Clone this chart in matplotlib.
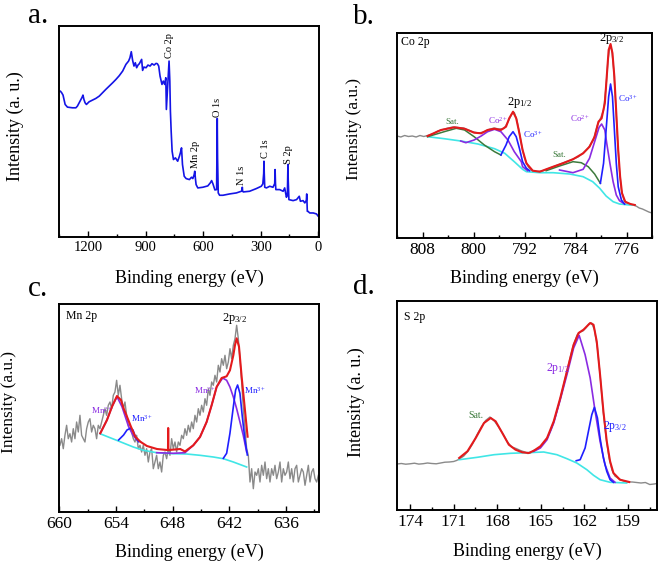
import matplotlib
matplotlib.use('Agg')
import matplotlib.pyplot as plt
import numpy as np
from matplotlib.ticker import MultipleLocator

plt.rcParams['font.family'] = ['Liberation Serif', 'DejaVu Serif']
plt.rcParams['mathtext.fontset'] = 'custom'
plt.rcParams['mathtext.rm'] = 'Liberation Serif'
plt.rcParams['mathtext.it'] = 'Liberation Serif:italic'
plt.rcParams['mathtext.bf'] = 'Liberation Serif:bold'

# ---------------- data: (a) survey ----------------
E_a = [1352, 1345, 1338, 1331, 1320, 1308, 1295, 1282, 1264, 1256, 1244, 1232, 1227, 1222, 1216, 1209,
       1195, 1177, 1160, 1142, 1125, 1108, 1090, 1072, 1055, 1038, 1020, 1003, 989, 982, 975, 968, 961,
       954, 947, 940, 933, 926, 921, 916, 909, 898, 888, 877, 867, 856, 846, 839, 832, 825, 815, 808,
       801, 795, 792, 787, 781, 778, 774, 771, 767, 762, 755, 745, 733, 724, 719, 713, 708, 699, 689,
       672, 661, 654, 647, 644, 640, 637, 628, 602, 576, 563, 556, 549, 539, 530, 528.5, 526.7, 525,
       521.5, 514.5, 497, 462, 427, 401, 397.5, 396, 394.5, 391, 358, 323, 297, 289, 284.5, 283, 281.5,
       279, 270, 253, 236, 227, 225, 223, 221, 201, 183, 175, 166, 161, 159.5, 158, 156.5, 153, 131,
       113, 99, 93, 79, 70, 62, 60, 58.5, 57, 54, 44, 26, 9, 0, -4]
I_a = [437, 437, 432, 425, 397, 389, 388, 387, 387, 392, 405, 418, 425, 412, 402, 397,
       405, 410, 415, 422, 432, 442, 452, 462, 472, 483, 497, 517, 527, 537, 555, 529, 512,
       522, 507, 515, 519, 527, 532, 499, 509, 507, 515, 512, 519, 515, 520, 519, 512, 482, 457, 467,
       457, 477, 382, 432, 487, 527, 467, 377, 317, 257, 232, 237, 227, 242, 252, 267, 217, 182, 175,
       172, 179, 175, 187, 197, 172, 157, 147, 149, 153, 162, 169, 159, 141, 142, 237, 355, 237,
       132, 125, 125, 129, 132, 137, 140, 149, 138, 135, 137, 145, 152, 159, 190, 227, 190,
       149, 147, 152, 149, 160, 202, 160, 142, 142, 137, 147, 119, 125, 170, 217, 170, 112, 109,
       112, 122, 107, 109, 102, 110, 129, 100, 77, 77, 72, 72, 69, 62, 67]
labels_a = ["Co 2p", "Mn 2p", "O 1s", "N 1s", "C 1s", "S 2p"]
label_E_a = [778, 640, 527, 399.5, 276, 157]
label_I_a = [536, 206, 360, 156, 236, 219]

# ---------------- data: (b) Co 2p ----------------
E_b_raw = [812.0, 811.4, 810.8, 810.2, 809.6, 809.0, 808.4, 807.8, 807.2, 806.4, 805.6, 804.8, 804.0,
           803.2, 802.4, 801.6, 800.8, 800.0, 799.2, 798.4, 797.6, 796.8, 796.0, 795.2, 794.6, 794.0,
           793.6, 793.2, 792.8, 792.4, 792.0, 791.4, 790.8, 790.0, 789.2, 788.4, 787.6, 786.8, 786.0,
           785.2, 784.4, 783.6, 782.8, 782.0, 781.2, 780.6, 780.0, 779.6, 779.2, 778.9, 778.6, 778.3,
           778.0, 777.7, 777.4, 777.1, 776.8, 776.4, 776.0, 775.5, 775.0, 774.5, 774.0, 773.5, 773.0,
           772.5, 772.0, 771.6]
I_b_raw = [102, 101, 102.5, 101.5, 102, 101, 102.5, 101.5, 102.5, 104, 107, 108.5, 110,
           111, 110.5, 110, 108, 106, 105, 106, 108.5, 110, 109, 109.5, 116, 124,
           125.5, 118, 105, 91, 80, 71, 67, 66.5, 67, 69, 71, 73, 75,
           77, 79, 81, 85, 90, 98, 112, 121, 128, 152, 178, 192, 188,
           168, 135, 98, 68, 48, 38, 35, 34, 33, 32, 30, 29, 27.5,
           26, 25, 24.5]
E_b_fit = [807.2, 805.1, 803.0, 801.4, 799.9, 798.8, 797.8, 796.7, 795.7, 794.9, 794.4, 793.8, 793.3,
           792.8, 792.3, 791.7, 790.7, 789.6, 788.6, 787.5, 786.0, 784.4, 782.8, 781.8, 781.0, 780.4,
           779.9, 779.4, 779.1, 778.8, 778.5, 778.2, 777.9, 777.6, 777.3, 777.0, 776.7, 776.2, 775.4, 774.7]
I_b_fit = [102, 108, 110.7, 109.3, 105.3, 104.7, 108, 109.3, 108, 111.3, 119.7, 126.3, 119.7,
           104.7, 88, 74.7, 67.3, 66.3, 68.7, 71.3, 74.7, 78.7, 84.7, 91.3, 101.3, 116.3,
           119.7, 134.7, 161.3, 188, 194, 184.7, 161, 124.7, 88, 61.3, 44.7, 36.3, 34, 33]
E_b_bg = [807.2, 804.6, 802.0, 799.3, 796.7, 795.1, 793.6, 792.3, 791.7, 789.6, 787.5, 784.9, 782.8,
          781.3, 780.2, 779.2, 778.1, 777.1, 775.5, 774.7]
I_b_bg = [101.3, 99.3, 97, 94, 89.3, 84.7, 76.3, 68.7, 66.3, 65.3, 65.3, 64, 61.3,
          56.3, 49.7, 42, 36.3, 34, 33, 33]
E_b_sat1 = [807.2, 804.6, 802.7, 801.4, 799.9, 798.3, 796.7, 795.7]
I_b_sat1 = [101.3, 106.3, 109.7, 108, 101.3, 93, 86.3, 83]
E_b_co2a = [802.0, 801.2, 799.9, 798.8, 797.8, 796.7, 795.7, 794.6, 793.6, 792.5, 792.3, 791.5]
I_b_co2a = [97, 95.3, 98, 102, 106.3, 108.7, 106.3, 98, 86.3, 76.3, 71.3, 67.3]
E_b_co3a = [795.7, 794.9, 794.4, 793.8, 793.3, 792.8, 792.3, 791.7, 791.2]
I_b_co3a = [83, 93, 101.3, 106.3, 101.3, 89.7, 76.3, 69.7, 67.3]
E_b_sat2 = [788.6, 786.5, 784.4, 783.1, 782.0, 781.0, 780.1]
I_b_sat2 = [67.3, 72, 76.3, 75.3, 71.3, 64, 54.7]
E_b_co2b = [786.5, 784.4, 782.8, 781.8, 781.0, 780.3, 779.9, 779.4, 779.1, 778.6, 778.1, 777.6, 777.1, 776.3]
I_b_co2b = [68, 65.3, 68.7, 79.7, 96.3, 110.7, 114, 108, 94.7, 74.7, 56.3, 43, 37.3, 34]
E_b_co3b = [780.1, 779.6, 779.2, 778.8, 778.5, 778.2, 777.9, 777.6, 777.3, 776.8, 776.3]
I_b_co3b = [54.7, 74.7, 108, 141.3, 154, 141.3, 108, 74.7, 51.3, 38, 34]

# ---------------- data: (c) Mn 2p ----------------
E_c_start, E_c_end = 659.93, 632.57
I_c_raw = [66.7, 73.3, 63.3, 76.7, 86.7, 73.3, 78.3, 70.0, 83.3, 73.3, 90.0, 80.0, 96.7, 76.7, 73.3, 70.0,
           83.3, 90.0, 93.3, 80.0, 86.7, 83.3, 73.3, 86.7, 83.3, 90.0, 96.7, 103.3, 96.7, 106.7, 110.0,
           103.3, 116.7, 120.0, 131.7, 116.7, 126.7, 113.3, 103.3, 110.0, 96.7, 86.7, 86.7, 80.0, 73.3,
           70.0, 76.7, 63.3, 66.7, 60.0, 66.7, 56.7, 63.3, 50.0, 60.0, 63.3, 43.3, 50.0, 56.7, 43.3, 50.0,
           40.0, 56.7, 60.0, 53.3, 63.3, 56.7, 73.3, 63.3, 70.0, 60.0, 70.0, 66.7, 76.7, 73.3, 83.3, 76.7,
           86.7, 80.0, 90.0, 83.3, 96.7, 90.0, 103.3, 96.7, 106.7, 100.0, 113.3, 106.7, 123.3, 116.7, 130.0,
           126.7, 136.7, 130.0, 146.7, 140.0, 153.3, 146.7, 156.7, 143.3, 150.0, 163.3, 153.3, 166.7, 173.3,
           186.7, 173.3, 153.3, 130.0, 103.3, 83.3, 63.3, 56.7, 30.0, 43.3, 23.3, 40.0, 36.7, 43.3, 30.0,
           46.7, 36.7, 50.0, 33.3, 43.3, 30.0, 43.3, 36.7, 46.7, 33.3, 40.0, 50.0, 30.0, 43.3, 36.7, 40.0,
           50.0, 33.3, 43.3, 30.0, 43.3, 46.7, 30.0, 36.7, 43.3, 40.0, 26.7, 36.7, 46.7, 30.0, 40.0, 43.3,
           33.3, 30.0, 36.7]
E_c_fit = [655.66, 654.95, 654.42, 653.89, 653.47, 653.19, 652.83, 652.41, 651.95, 651.42, 650.72, 649.66,
           648.6, 648.49, 648.47, 648.45, 648.39, 647.19, 646.69, 645.81, 645.10, 644.40, 643.87, 643.34,
           642.81, 642.28, 641.93, 641.57, 641.40, 641.22, 640.97, 640.69, 640.34, 640.06]
I_c_fit = [78.7, 92, 105.3, 116, 112, 103.7, 95.3, 85.3, 75.3, 70.3, 66, 63, 62, 62, 84, 62, 62, 63,
           60.5, 66.7, 75, 90, 106.7, 125, 134, 135.7, 141.7, 156.7, 166.7, 173.7, 165.3, 135.3, 102, 75.3]
E_c_bg = [655.69, 653.93, 652.16, 651.1, 649.69, 647.93, 646.52, 645.10, 643.69, 642.63, 641.57, 640.16]
I_c_bg = [78.3, 71.7, 65, 61.7, 59.3, 58.3, 58, 56.7, 55, 53.3, 50, 45]
E_c_mn2a = [655.66, 654.95, 654.42, 653.89, 653.36, 653.01, 652.66, 652.2, 651.78, 651.42]
I_c_mn2a = [78.7, 92, 105.3, 115.3, 105.3, 95.3, 85.3, 77, 72, 70.3]
E_c_mn3a = [653.72, 653.19, 652.83, 652.48, 652.2, 651.95, 651.6]
I_c_mn3a = [72, 77, 82, 83.7, 82, 75.3, 70.3]
E_c_mn2b = [649.69, 647.93, 646.69, 645.81, 645.10, 644.40, 643.87, 643.34, 642.70, 642.28, 641.93, 641.57,
            641.22, 640.87, 640.52, 640.16]
I_c_mn2b = [59.3, 58.7, 59.3, 66.7, 75, 90, 106.7, 125, 134, 131.7, 125, 115, 103.3, 90, 76.7, 60]
E_c_mn3b = [642.63, 642.28, 641.93, 641.57, 641.33, 641.12, 640.87, 640.62, 640.34, 640.09]
I_c_mn3b = [53.7, 58.7, 78.7, 105.3, 122, 127, 118.7, 95.3, 72, 57]

# ---------------- data: (d) S 2p ----------------
E_d_raw = [174.9, 174.6, 174.3, 174.0, 173.7, 173.4, 173.1, 172.8, 172.5, 172.2, 171.9, 171.6, 171.3, 171.0,
           170.8, 170.6, 170.3, 170.0, 169.7, 169.4, 169.1, 168.8, 168.5, 168.2, 167.9, 167.6, 167.3, 167.0,
           166.7, 166.4, 166.1, 165.9, 165.7, 165.5, 165.2, 164.9, 164.6, 164.3, 164.0, 163.7, 163.4, 163.1,
           162.8, 162.5, 162.3, 162.1, 161.9, 161.7, 161.5, 161.3, 161.1, 160.9, 160.7, 160.5, 160.3, 160.1,
           159.9, 159.6, 159.3, 159.0, 158.7, 158.4, 158.1, 157.8, 157.5, 157.2, 157.0]
I_d_raw = [46, 46.5, 45.8, 46.2, 46.8, 45.9, 46.3, 47, 46.5, 46.2, 47, 47.8, 48, 48.5,
           49.5, 51, 54, 59, 66, 75, 83, 89.5, 93, 89, 83, 76, 68, 63,
           61.5, 59.5, 58, 56.5, 57, 59.5, 61, 65, 71, 80, 93, 109, 127, 145,
           163, 175, 178, 179, 182, 186, 187, 180, 162, 132, 98, 72, 52, 40,
           34, 31, 29, 28, 28, 27.5, 27, 27.5, 25.5, 26, 26.5]
E_d_fit = [170.62, 170.05, 169.48, 168.91, 168.45, 168.11, 167.65, 167.2, 166.74, 166.28, 165.83, 165.48,
           165.03, 164.57, 164.11, 163.66, 163.2, 162.74, 162.4, 162.06, 161.6, 161.37, 161.15, 160.92,
           160.69, 160.46, 160.23, 160.0, 159.55, 158.91]
I_d_fit = [52, 58.7, 72, 87, 92, 88.7, 77, 65.3, 60.3, 57.7, 57, 59.3,
           63.7, 72, 88.7, 112, 138.7, 165.3, 177, 180.3, 187, 185.3, 168.7, 135.3,
           98.7, 68.7, 48.7, 37, 30.3, 28]
E_d_bg = [170.62, 169.37, 168.22, 167.08, 165.94, 164.8, 163.89, 163.2, 162.52, 161.83, 161.37, 160.92,
          160.23, 159.09]
I_d_bg = [50.3, 52.7, 55.3, 56.7, 57.3, 58, 55.3, 51.3, 47, 40.3, 34.7, 30.3, 27.7, 27]
E_d_p12 = [165.48, 165.03, 164.57, 164.11, 163.66, 163.2, 162.74, 162.36, 161.95, 161.6, 161.26, 160.92,
           160.58, 160.23, 159.89]
I_d_p12 = [58.7, 62, 70.3, 87, 110.3, 135.3, 162, 174.7, 155.3, 132, 98.7, 68.7, 45.3, 32, 27.7]
E_d_p32 = [162.56, 162.29, 161.95, 161.72, 161.49, 161.31, 161.1, 160.92, 160.69, 160.46, 160.23, 160.0]
I_d_p32 = [49.3, 50.3, 62, 78.7, 95.3, 102.7, 92, 72, 52, 38.7, 30.3, 27.7]

# ---------------- styling ----------------
GRAY = '#8a8a8a'
RED = '#e41a1c'
CYAN = '#40e6e6'
PURPLE = '#8a2be2'
BLUE = '#1f1fff'
GREEN = '#3c7a3c'
SURVEY = '#1414e6'

W, H = 661, 564
fig = plt.figure(figsize=(W / 100, H / 100), dpi=100)


def px_axes(x0, y0, x1, y1):
    return fig.add_axes([x0 / W, 1 - y1 / H, (x1 - x0) / W, (y1 - y0) / H])


def style(ax, xlim, ylim, major, minor, fs):
    ax.set_xlim(*xlim)
    ax.set_ylim(*ylim)
    ax.xaxis.set_major_locator(MultipleLocator(major))
    ax.xaxis.set_minor_locator(MultipleLocator(minor))
    ax.tick_params(axis='x', which='both', direction='in', top=False, labelsize=fs, pad=3,
                   width=1.0)
    ax.tick_params(axis='x', which='major', length=4)
    ax.tick_params(axis='x', which='minor', length=2.5)
    ax.tick_params(axis='y', left=False, right=False, labelleft=False)
    for s in ax.spines.values():
        s.set_linewidth(1.4)


def ftext(x, y, s, **kw):
    fig.text(x / W, 1 - y / H, s, **kw)


# (a)
ax = px_axes(59, 26, 319, 237)
ax.plot(E_a, I_a, color=SURVEY, lw=1.2)
for lab, e, i in zip(labels_a, label_E_a, label_I_a):
    ax.text(e, i, lab, rotation=90, ha='center', va='bottom', fontsize=7.5)
style(ax, (1352, -4), (0, 632), 300, 150, 10.5)

# (b)
ax = px_axes(397, 33, 652, 238)
ax.plot(E_b_raw, I_b_raw, color=GRAY, lw=1.0)
ax.plot(E_b_bg, I_b_bg, color=CYAN, lw=1.2)
ax.plot(E_b_sat1, I_b_sat1, color=GREEN, lw=1.1)
ax.plot(E_b_sat2, I_b_sat2, color=GREEN, lw=1.1)
ax.plot(E_b_co2a, I_b_co2a, color=PURPLE, lw=1.2)
ax.plot(E_b_co2b, I_b_co2b, color=PURPLE, lw=1.2)
ax.plot(E_b_co3a, I_b_co3a, color=BLUE, lw=1.2)
ax.plot(E_b_co3b, I_b_co3b, color=BLUE, lw=1.2)
ax.plot(E_b_fit, I_b_fit, color=RED, lw=1.5)
ax.text(811.3, 196, 'Co 2p', fontsize=8.5, va='center', ha='left')
ax.text(803.4, 116, 'Sat.', fontsize=6.5, color=GREEN, ha='center', va='center')
ax.text(786.5, 83, 'Sat.', fontsize=6.5, color=GREEN, ha='center', va='center')
ax.text(796.2, 117, r'Co$^{2+}$', fontsize=6.5, color=PURPLE, ha='center', va='center')
ax.text(783.3, 119, r'Co$^{2+}$', fontsize=6.5, color=PURPLE, ha='center', va='center')
ax.text(790.7, 103, r'Co$^{3+}$', fontsize=6.5, color=BLUE, ha='center', va='center')
ax.text(775.8, 139, r'Co$^{3+}$', fontsize=6.5, color=BLUE, ha='center', va='center')
ax.text(792.8, 136, r'2p$_{1/2}$', fontsize=9, ha='center', va='center')
ax.text(778.3, 200, r'2p$_{3/2}$', fontsize=9, ha='center', va='center')
style(ax, (812, 772), (0, 205), 8, 4, 12.5)

# (c)
ax = px_axes(59, 304, 319, 512)
E_c_raw = np.linspace(E_c_start, E_c_end, len(I_c_raw))
ax.plot(E_c_raw, I_c_raw, color=GRAY, lw=1.0)
ax.plot(E_c_bg, I_c_bg, color=CYAN, lw=1.2)
ax.plot(E_c_mn2a, I_c_mn2a, color=PURPLE, lw=1.2)
ax.plot(E_c_mn2b, I_c_mn2b, color=PURPLE, lw=1.2)
ax.plot(E_c_mn3a, I_c_mn3a, color=BLUE, lw=1.2)
ax.plot(E_c_mn3b, I_c_mn3b, color=BLUE, lw=1.2)
ax.plot(E_c_fit, I_c_fit, color=RED, lw=1.5)
ax.text(659.3, 196, 'Mn 2p', fontsize=8.5, va='center', ha='left')
ax.text(641.4, 193, r'2p$_{3/2}$', fontsize=9, ha='center', va='center')
ax.text(655.45, 101, r'Mn$^{2+}$', fontsize=6.5, color=PURPLE, ha='center', va='center')
ax.text(651.2, 94, r'Mn$^{3+}$', fontsize=6.5, color=BLUE, ha='center', va='center')
ax.text(644.6, 121, r'Mn$^{2+}$', fontsize=6.5, color=PURPLE, ha='center', va='center')
ax.text(639.3, 121, r'Mn$^{3+}$', fontsize=6.5, color=BLUE, ha='center', va='center')
style(ax, (660.03, 632.5), (0, 208), 6, 3, 12.5)

# (d)
ax = px_axes(397, 301, 657, 510)
ax.plot(E_d_raw, I_d_raw, color=GRAY, lw=1.0)
ax.plot(E_d_bg, I_d_bg, color=CYAN, lw=1.2)
ax.plot(E_d_p12, I_d_p12, color=PURPLE, lw=1.2)
ax.plot(E_d_p32, I_d_p32, color=BLUE, lw=1.2)
ax.plot(E_d_fit, I_d_fit, color=RED, lw=1.5)
ax.text(174.4, 193, 'S 2p', fontsize=8.5, va='center', ha='left')
ax.text(169.46, 94, 'Sat.', fontsize=7, color=GREEN, ha='center', va='center')
ax.text(163.84, 142, r'2p$_{1/2}$', fontsize=8.5, color=PURPLE, ha='center', va='center')
ax.text(159.87, 83, r'2p$_{3/2}$', fontsize=8.5, color=BLUE, ha='center', va='center')
style(ax, (174.9, 157.0), (0, 209), 3, 1.5, 12.5)

# axis labels and panel letters (figure pixel positions)
xl = 'Binding energy (eV)'
ftext(189, 278, xl, fontsize=13, ha='center', va='center')
ftext(524, 278, xl, fontsize=13, ha='center', va='center')
ftext(189, 552, xl, fontsize=13, ha='center', va='center')
ftext(527, 551, xl, fontsize=13, ha='center', va='center')
ftext(15.5, 126, 'Intensity (a. u.)', fontsize=13, rotation=90, ha='center', va='center')
ftext(354.5, 129, 'Intensity (a.u.)', fontsize=12.5, rotation=90, ha='center', va='center')
ftext(9.5, 402, 'Intensity (a.u.)', fontsize=12.5, rotation=90, ha='center', va='center')
ftext(356, 402, 'Intensity (a. u.)', fontsize=13, rotation=90, ha='center', va='center')
for lab, x, y in [('a.', 28, 23), ('b.', 353, 24), ('c.', 28, 296), ('d.', 353, 294)]:
    ftext(x, y, lab, fontsize=21, ha='left', va='baseline')

fig.savefig('out.png', dpi=100)
